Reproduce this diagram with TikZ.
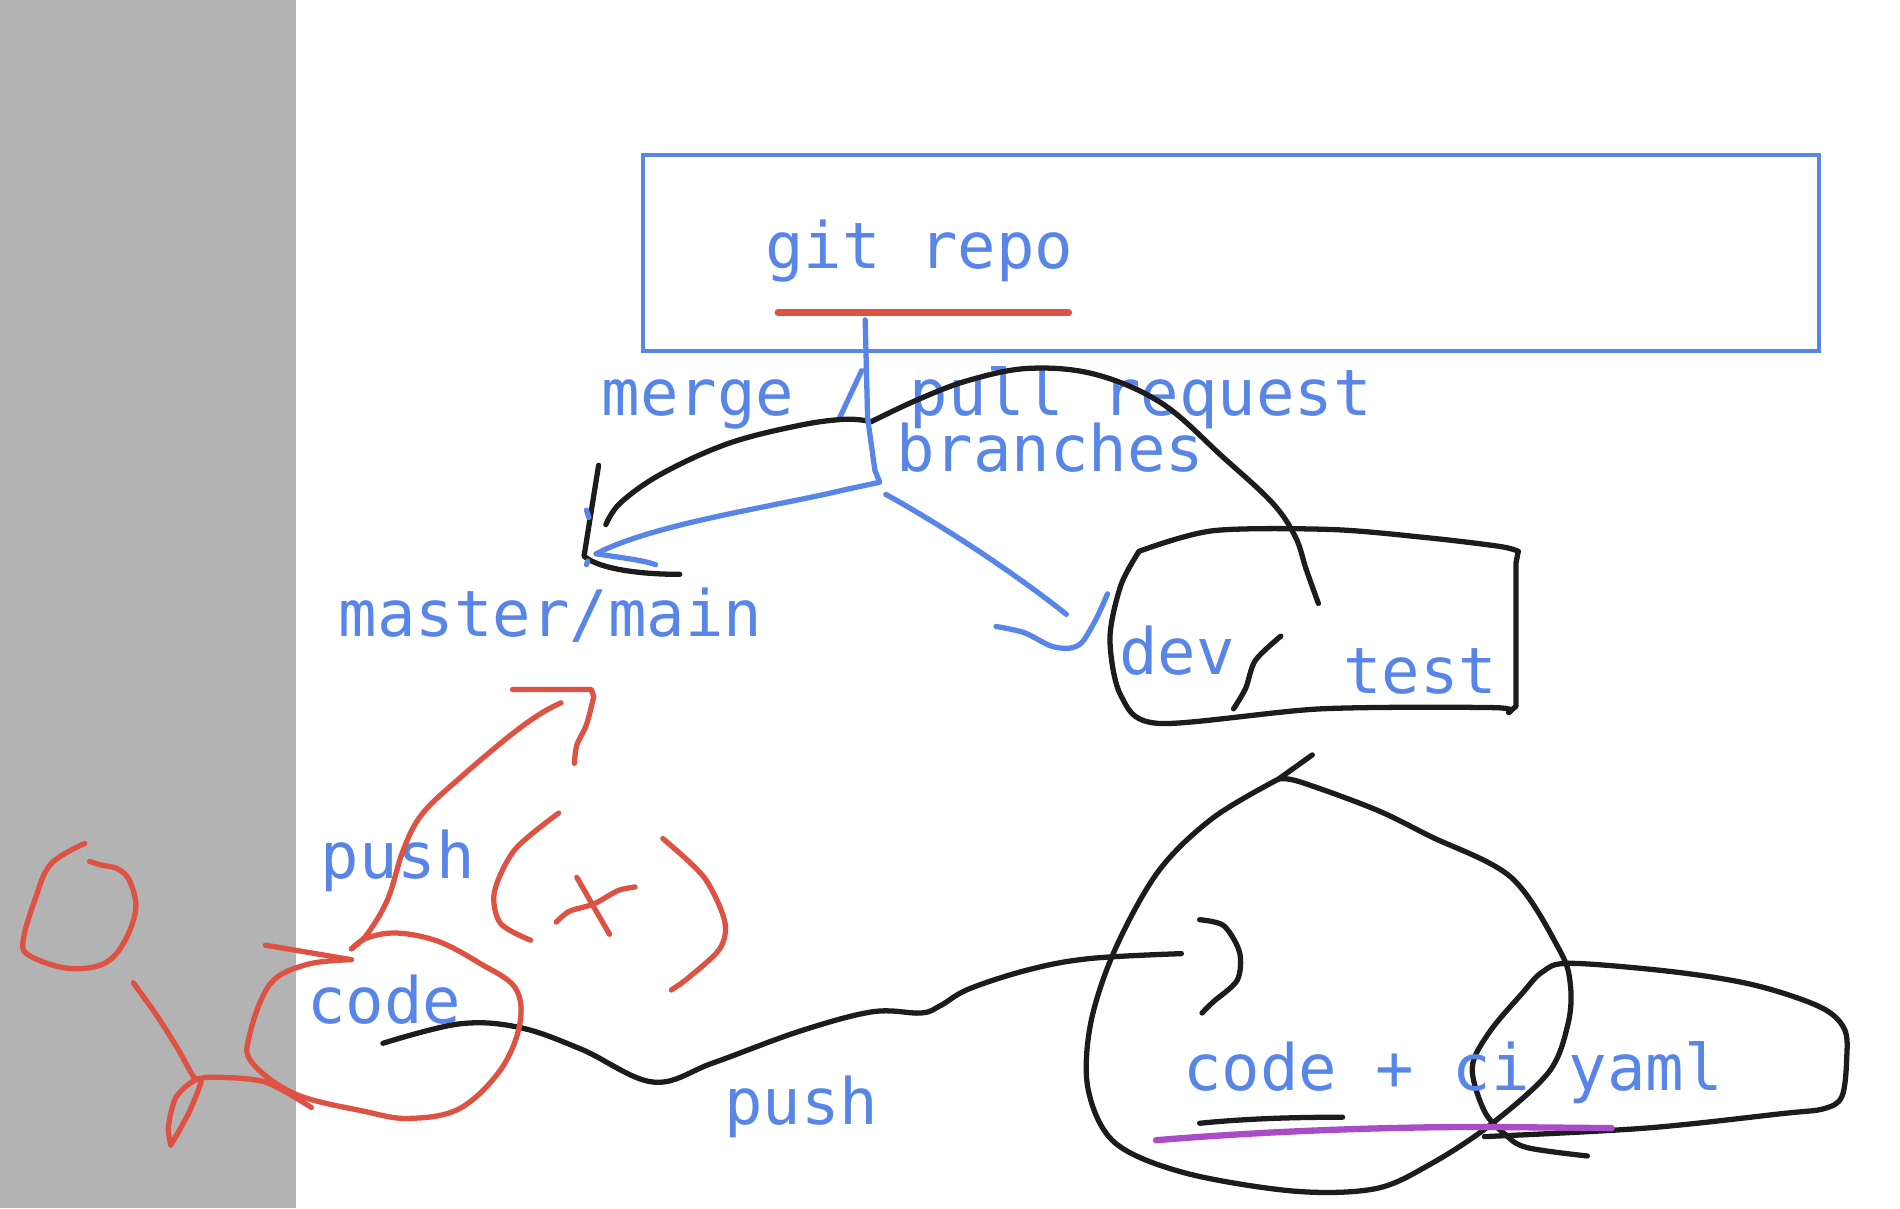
\documentclass[tikz,border=0pt]{standalone}
\usepackage{fontspec}
\newfontfamily\sketchfont{DejaVu Sans Mono}
\definecolor{inkblue}{RGB}{88,134,232}
\definecolor{inkred}{RGB}{222,82,68}
\definecolor{inkpurple}{RGB}{168,76,200}
\definecolor{inkblack}{RGB}{28,28,28}
\definecolor{sidegray}{RGB}{179,179,179}
\begin{document}
\begin{tikzpicture}[x=0.012117cm,y=-0.012117cm,
    pen/.style={inkblack,line width=1.5pt,line cap=round,line join=round},
    word/.style={anchor=base west,inner sep=0pt,text=inkblue,font=\sketchfont\fontsize{18.2}{20}\selectfont}]
        \useasboundingbox (0,0) rectangle (1568,997);
        \fill[sidegray] (0,0) rectangle (244,997);
        % repo box
        \draw[inkblue,line width=1.15pt] (531,128) rectangle (1501,290);
        \node[word] (repo) at (631,222) {git repo};
        \draw[pen,inkred,line width=1.9pt] (642,258) -- (882,258);
        \node[word] (merge) at (496,343) {merge / pull request};
        \node[word] (branches) at (739,389) {branches};
        \node[word] (master) at (279,525) {master/main};
        % merge arrow back to master
        \draw[pen] plot[smooth,tension=0.6] coordinates {(500,433) (512,415) (546,391) (601,366) (660,351) (698,346) (719,348)};
        \draw[pen] plot[smooth,tension=0.6] coordinates {(719,348) (757,330) (799,314) (849,304) (904,309) (959,333) (1009,377) (1050,415) (1069,443) (1078,470) (1088,498)};
        \draw[pen] (494,384) -- (482,459) .. controls (495,470) and (530,474) .. (561,474);
        % branches out of the repo
        \draw[pen,inkblue] (714,264) -- (716,345) -- (722,388) -- (726,398) -- (698,404) .. controls (640,418) and (540,432) .. (492,457);
        \draw[pen,inkblue] (492,457) .. controls (510,460) and (530,462) .. (541,466);
        \draw[pen,inkblue] (484,421) -- (486,427);
        \draw[pen,inkblue] (485,463) -- (484,466);
        \draw[pen,inkblue] (731,408) .. controls (780,435) and (840,475) .. (880,507);
        \draw[pen,inkblue] plot[smooth] coordinates {(822,517) (845,522) (867,533) (882,535) (893,530) (905,510) (914,490)};
        % dev / test box
        \node[word] (dev) at (923,557) {dev};
        \node[word] (test) at (1108,572) {test};
        \draw[pen] plot[smooth,tension=0.5] coordinates {(940,455) (1001,438) (1099,437) (1180,444) (1238,451) (1253,455)};
        \draw[pen] (1253,455) -- (1251,465) -- (1251,583) -- (1245,588);
        \draw[pen] plot[smooth,tension=0.5] coordinates {(1245,588) (1233,584) (1090,585) (956,597) (925,574) (916,527) (925,483) (940,455)};
        \draw[pen] plot[smooth] coordinates {(1057,525) (1036,545) (1028,568) (1018,585)};
        % pipeline blob
        \draw[pen] (1083,623) -- (1055,643);
        \draw[pen] plot[smooth,tension=0.55] coordinates {(1055,643) (1072,645) (1135,668) (1180,690) (1247,724) (1287,784) (1296,813) (1294,845) (1278,885) (1229,929) (1180,961) (1135,981) (1068,983) (978,968) (920,943) (898,899) (900,845) (920,784) (956,719) (1001,675) (1055,643)};
        \draw[pen] plot[smooth,tension=0.55] coordinates {(1310,954) (1260,947) (1242,936) (1225,917) (1215,881) (1229,852) (1256,820) (1273,802) (1296,795) (1381,802) (1448,813) (1502,831) (1522,849) (1524,874) (1520,905) (1505,915) (1471,919) (1358,931) (1225,938)};
        \node[word] (codeci) at (976,900) {code + ci yaml};
        \draw[pen] plot[smooth] coordinates {(990,759) (1010,764) (1023,786) (1021,809) (1001,827) (992,836)};
        \draw[pen] (990,927) .. controls (1030,923) and (1070,922) .. (1108,922);
        \draw[pen,inkpurple,line width=1.8pt] (954,941) .. controls (1050,933) and (1150,930) .. (1225,930) -- (1330,931);
        % push from local code
        \node[word] (code) at (253,845) {code};
        \node[word] (pushlow) at (597,928) {push};
        \draw[pen] plot[smooth,tension=0.6] coordinates {(316,861) (379,845) (429,848) (480,866) (539,893) (589,877) (660,851) (720,835) (760,836) (776,830) (800,816) (850,800) (900,791) (975,787)};
        % red notes
        \node[word] (pushup) at (264,725) {push};
        \draw[pen,inkred] plot[smooth,tension=0.6] coordinates {(70,696) (42,713) (29,742) (19,777) (25,789) (55,799) (84,796) (101,780) (112,751) (107,727) (97,717) (84,714) (74,711)};
        \draw[pen,inkred] plot[smooth] coordinates {(110,811) (130,839) (147,866) (160,889) (166,892) (156,918) (141,945)};
        \draw[pen,inkred] plot[smooth] coordinates {(141,945) (139,930) (145,906) (160,892) (177,889) (219,893) (257,914)};
        \draw[pen,inkred] (219,780) -- (290,792);
        \draw[pen,inkred] plot[smooth,tension=0.6] coordinates {(290,792) (253,796) (223,812) (206,854) (208,877) (244,903) (300,917) (337,923) (379,915) (413,883) (429,845) (425,815) (396,795) (362,777) (328,770) (303,774) (290,783)};
        \draw[pen,inkred] plot[smooth,tension=0.6] coordinates {(290,783) (303,771) (320,742) (333,701) (349,671) (383,639) (421,607) (446,589) (463,580)};
        \draw[pen,inkred] (423,569) -- (488,569) -- (490,575);
        \draw[pen,inkred] plot[smooth] coordinates {(490,575) (484,598) (476,615) (474,630)};
        \draw[pen,inkred] plot[smooth] coordinates {(461,671) (425,701) (408,736) (413,762) (438,776)};
        \draw[pen,inkred] (476,724) -- (488,745) -- (503,771);
        \draw[pen,inkred] plot[smooth] coordinates {(459,761) (470,752) (490,746) (510,735) (524,732)};
        \draw[pen,inkred] plot[smooth] coordinates {(547,692) (581,724) (598,760) (594,783) (568,807) (554,817)};
\end{tikzpicture}
\end{document}
